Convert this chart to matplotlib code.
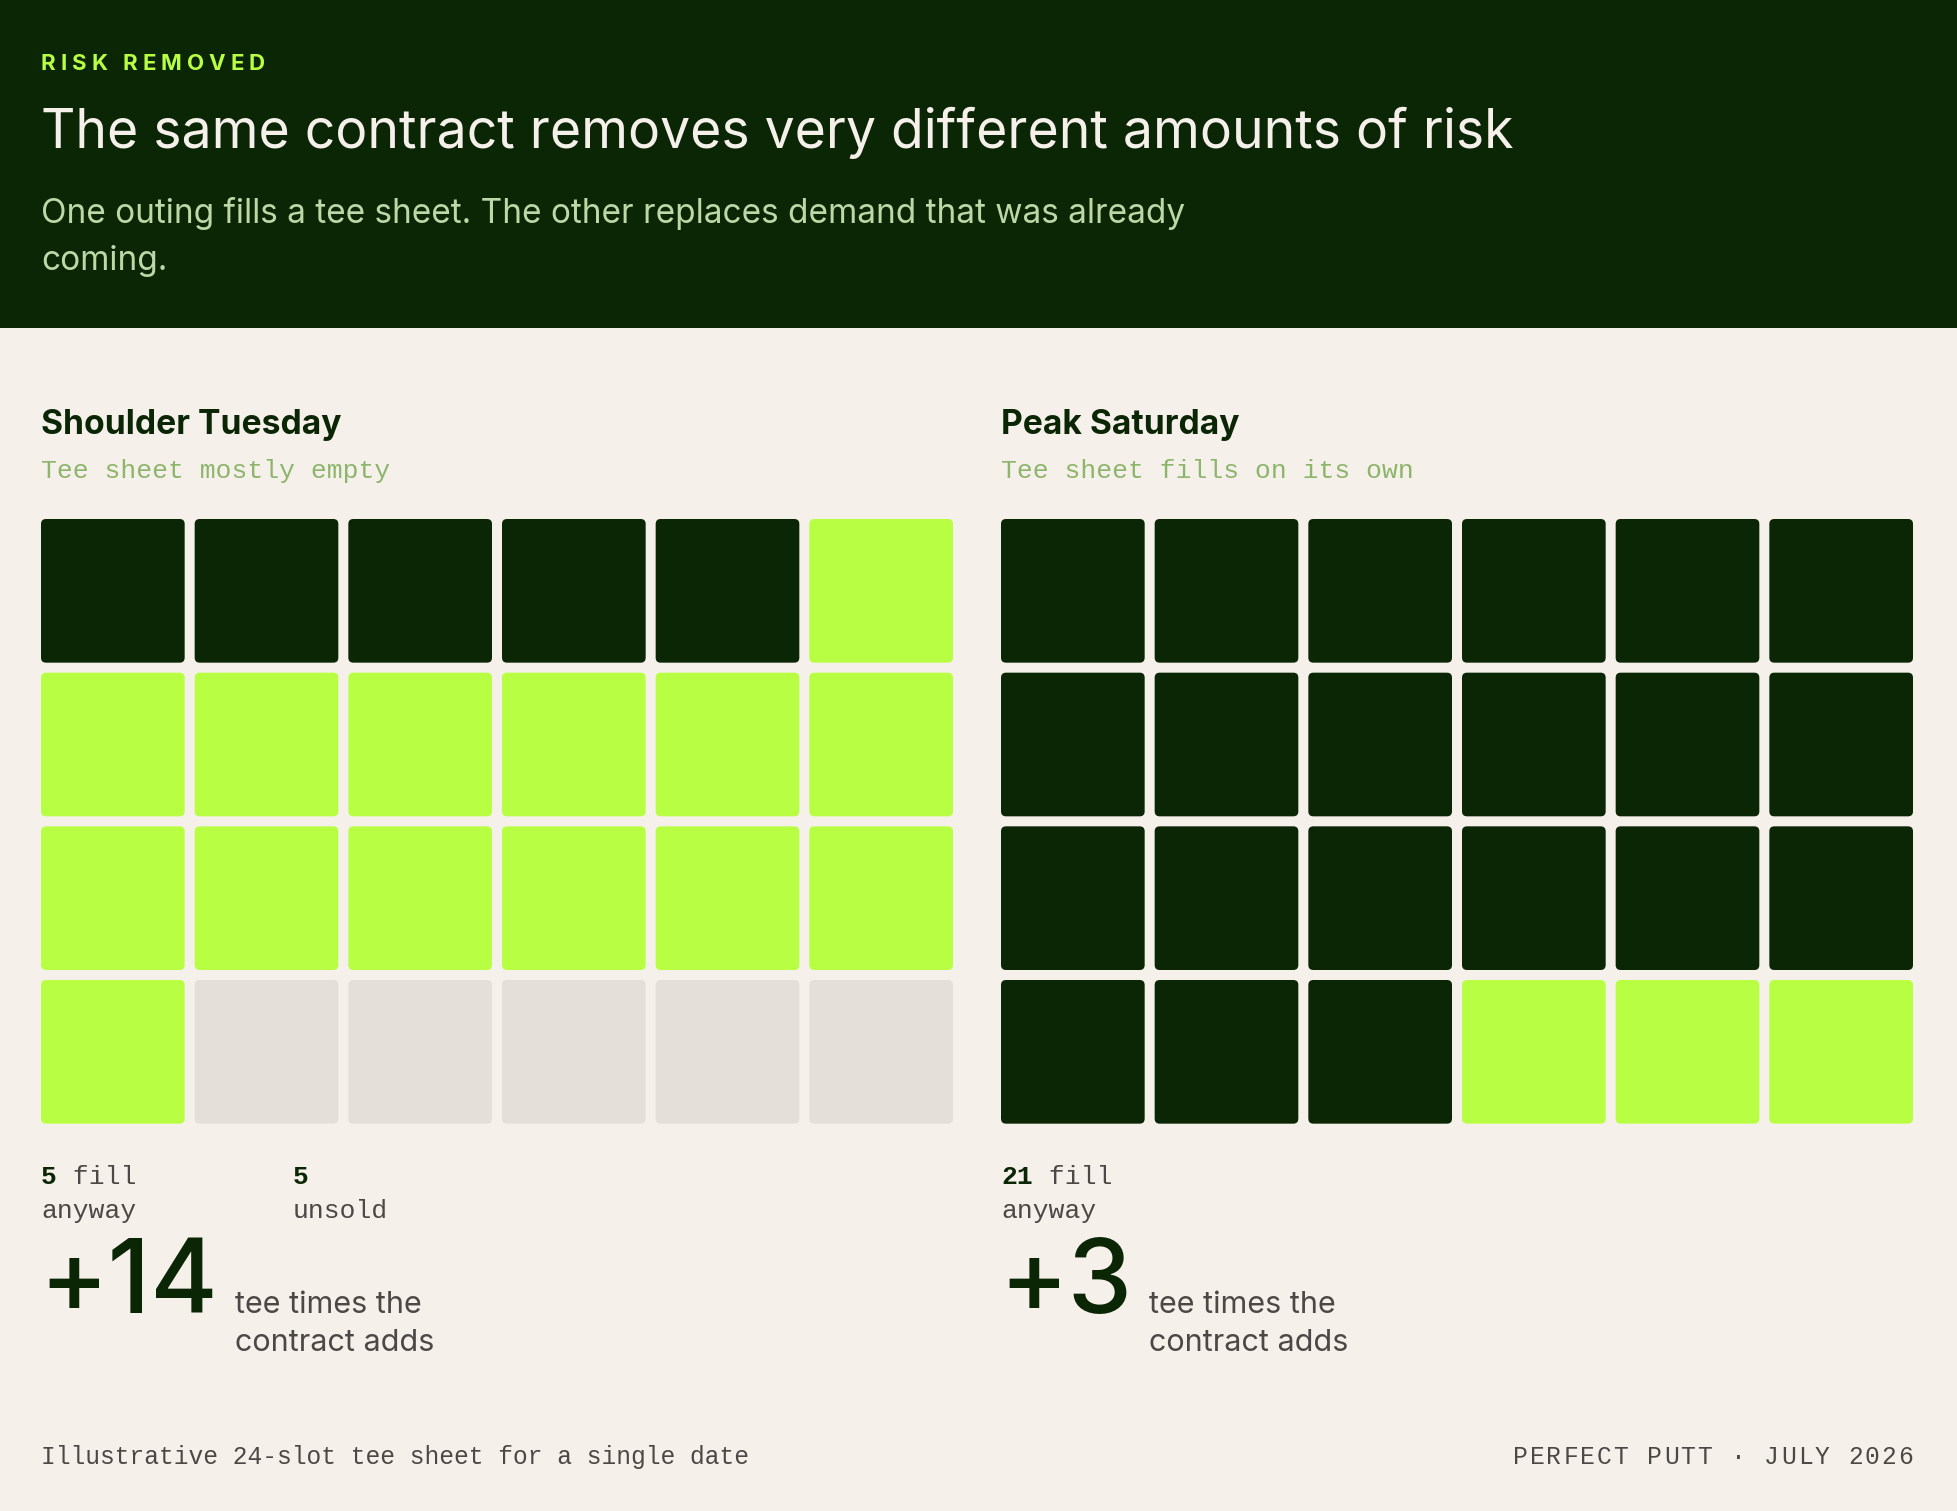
import matplotlib
matplotlib.use("Agg")
import matplotlib.pyplot as plt
from matplotlib.patches import Rectangle, FancyBboxPatch

# data
eyebrow = "RISK REMOVED"
title = "The same contract removes very different amounts of risk"
subtitle = ["One outing fills a tee sheet. The other replaces demand that was already",
            "coming."]
panel_names = ["Shoulder Tuesday", "Peak Saturday"]
panel_notes = ["Tee sheet mostly empty", "Tee sheet fills on its own"]
fill_anyway = [5, 21]
contract_adds = [14, 3]
unsold = [5, 0]
n_slots = 24
n_cols = 6
footer_left = "Illustrative 24-slot tee sheet for a single date"
footer_right = "PERFECT PUTT \u00b7 JULY 2026"

# colours
BG = "#f6f0eb"
DARK = "#0b2605"
LIME = "#b8ff44"
EMPTY = "#e4dfd9"
SUB = "#bcd8a6"
NOTE = "#8db56c"
GREY = "#4b4845"

SANS = "Inter"
MONO = "Liberation Mono"

W, H = 1957, 1511
fig = plt.figure(figsize=(W / 100, H / 100), dpi=100)
fig.patch.set_facecolor(BG)
ax = fig.add_axes([0, 0, 1, 1])
ax.set_xlim(0, W)
ax.set_ylim(H, 0)
ax.axis("off")
renderer = fig.canvas.get_renderer()


def width_of(s, **kw):
    t = ax.text(0, 0, s + "|", **kw)
    w = t.get_window_extent(renderer).width
    t.remove()
    t = ax.text(0, 0, "|", **kw)
    w -= t.get_window_extent(renderer).width
    t.remove()
    return w


def tracked(x, y, s, track, ha="left", **kw):
    total = width_of(s, **kw) + track * (len(s) - 1)
    if ha == "right":
        x = x - total
    for i, ch in enumerate(s):
        ax.text(x + width_of(s[:i], **kw) + track * i, y, ch, va="center", **kw)


def runs(x, y, parts, va="center"):
    for s, kw in parts:
        ax.text(x, y, s, va=va, **kw)
        x = x + width_of(s, **kw)
    return x


# header band
ax.add_patch(Rectangle((0, 0), W, 328, color=DARK, lw=0))
tracked(41, 64, eyebrow, 5.0, fontsize=16, family=SANS, fontweight="bold", color=LIME)
ax.text(41, 133, title, fontsize=38.5, family=SANS, color=BG, va="center")
for i, line in enumerate(subtitle):
    ax.text(41, 214 + i * 47, line, fontsize=24, family=SANS, color=SUB, va="center")

# panels
panel_x = [41, 1001]
grid_w = 912
gap = 10
cell = (grid_w - gap * (n_cols - 1)) / n_cols
grid_top = 519

for p in range(2):
    x0 = panel_x[p]
    ax.text(x0, 425, panel_names[p], fontsize=24.2, family=SANS, fontweight="bold",
            color=DARK, va="center")
    ax.text(x0, 471, panel_notes[p], fontsize=19, family=MONO, color=NOTE, va="center")

    states = [DARK] * fill_anyway[p] + [LIME] * contract_adds[p] + [EMPTY] * unsold[p]
    for k in range(n_slots):
        r, c = divmod(k, n_cols)
        ax.add_patch(FancyBboxPatch((x0 + c * (cell + gap), grid_top + r * (cell + gap)),
                                    cell, cell, boxstyle="round,pad=0,rounding_size=5",
                                    fc=states[k], ec="none"))

    runs(x0, 1177, [(str(fill_anyway[p]), dict(fontsize=19, family=MONO, fontweight="bold", color=DARK)),
                    (" fill", dict(fontsize=19, family=MONO, color=GREY))])
    ax.text(x0, 1211, "anyway", fontsize=19, family=MONO, color=GREY, va="center")
    if unsold[p] > 0:
        ax.text(x0 + 252, 1177, str(unsold[p]), fontsize=19, family=MONO,
                fontweight="bold", color=DARK, va="center")
        ax.text(x0 + 252, 1211, "unsold", fontsize=19, family=MONO, color=GREY, va="center")

    big = "+%d" % contract_adds[p]
    big_kw = dict(fontsize=74, family=SANS, fontweight="medium", color=DARK)
    ax.text(x0 - 2, 1313, big, va="baseline", **big_kw)
    bx = x0 - 2 + width_of(big, **big_kw) + 17
    ax.text(bx, 1305, "tee times the", fontsize=22, family=SANS, color=GREY, va="center")
    ax.text(bx, 1343, "contract adds", fontsize=22, family=SANS, color=GREY, va="center")

# footer
ax.text(41, 1457, footer_left, fontsize=17.7, family=MONO, color=GREY, va="center")
tracked(1913, 1457, footer_right, 2.0, ha="right", fontsize=17.7, family=MONO, color=GREY)

fig.savefig("out.png", dpi=100, facecolor=BG)
